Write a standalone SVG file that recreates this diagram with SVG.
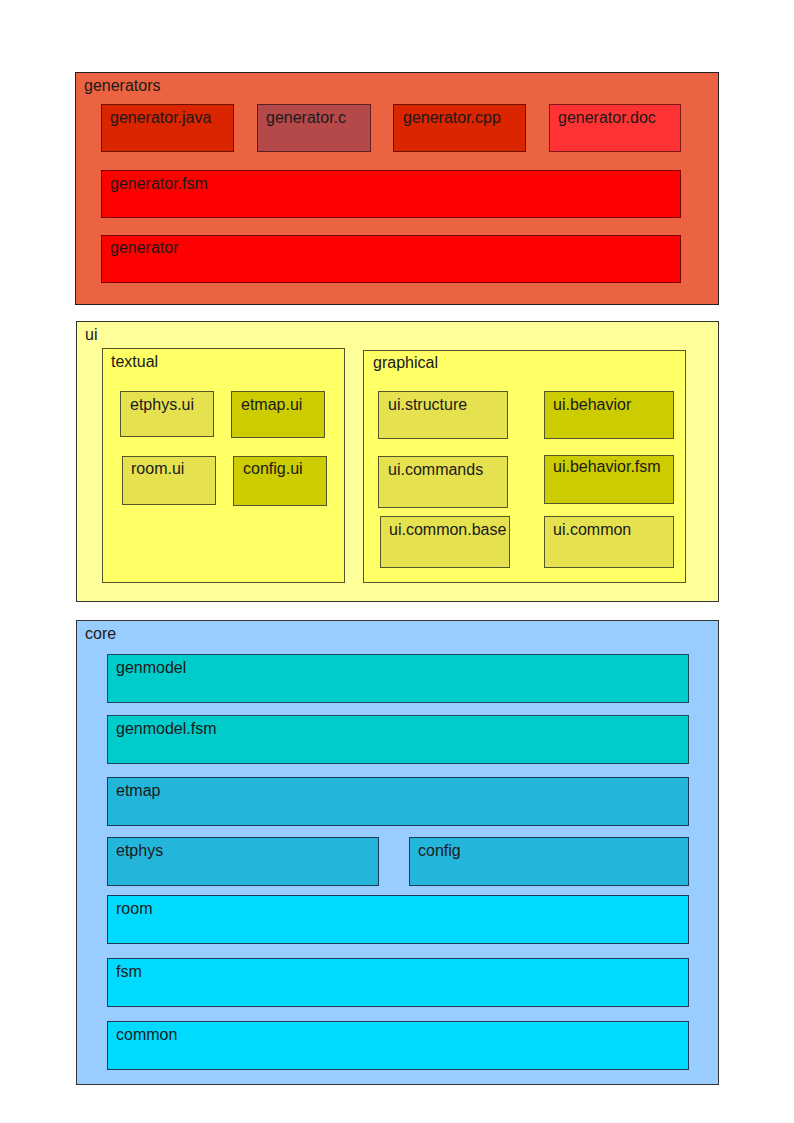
<svg xmlns="http://www.w3.org/2000/svg" width="794" height="1123" viewBox="0 0 794 1123">
<style>
text{font-family:"Liberation Sans",Arial,sans-serif;font-size:16px;fill:#1a1a1a}
rect{stroke-width:1}
.gp{fill:#EB6340;stroke:#222}
.r1{fill:#DB2400;stroke:#6b1200}
.r2{fill:#B5494A;stroke:#5a2020}
.r3{fill:#FF3333;stroke:#7a1a1a}
.r4{fill:#FF0000;stroke:#7a0000}
.up{fill:#FFFF99;stroke:#333}
.ug{fill:#FFFF66;stroke:#55552a}
.ul{fill:#E6E24F;stroke:#55552a}
.ud{fill:#CCCC00;stroke:#55552a}
.cp{fill:#99CCFF;stroke:#333}
.c1{fill:#00CCCC;stroke:#1d4a55}
.c2{fill:#24B5DA;stroke:#1d3a55}
.c3{fill:#00DAFF;stroke:#1d3a55}
</style>
<g id="generators"><rect class="gp" x="75.5" y="72.5" width="643" height="232"/><text x="84" y="91">generators</text></g>
<g id="generator.java"><rect class="r1" x="101.5" y="104.5" width="132" height="47"/><text x="110" y="123">generator.java</text></g>
<g id="generator.c"><rect class="r2" x="257.5" y="104.5" width="113" height="47"/><text x="266" y="123">generator.c</text></g>
<g id="generator.cpp"><rect class="r1" x="393.5" y="104.5" width="132" height="47"/><text x="403" y="123">generator.cpp</text></g>
<g id="generator.doc"><rect class="r3" x="549.5" y="104.5" width="131" height="47"/><text x="558" y="123">generator.doc</text></g>
<g id="generator.fsm"><rect class="r4" x="101.5" y="170.5" width="579" height="47"/><text x="110" y="189">generator.fsm</text></g>
<g id="generator"><rect class="r4" x="101.5" y="235.5" width="579" height="47"/><text x="110" y="253">generator</text></g>

<g id="ui"><rect class="up" x="76.5" y="321.5" width="642" height="280"/><text x="85" y="340">ui</text></g>
<g id="textual"><rect class="ug" x="102.5" y="348.5" width="242" height="234"/><text x="111" y="367">textual</text></g>
<g id="etphys.ui"><rect class="ul" x="120.5" y="391.5" width="93" height="45"/><text x="130" y="410">etphys.ui</text></g>
<g id="etmap.ui"><rect class="ud" x="231.5" y="391.5" width="93" height="46"/><text x="241" y="410">etmap.ui</text></g>
<g id="room.ui"><rect class="ul" x="122.5" y="456.5" width="93" height="48"/><text x="131" y="474">room.ui</text></g>
<g id="config.ui"><rect class="ud" x="233.5" y="456.5" width="93" height="49"/><text x="243" y="474">config.ui</text></g>
<g id="graphical"><rect class="ug" x="363.5" y="350.5" width="322" height="232"/><text x="373" y="368">graphical</text></g>
<g id="ui.structure"><rect class="ul" x="378.5" y="391.5" width="129" height="47"/><text x="388" y="410">ui.structure</text></g>
<g id="ui.behavior"><rect class="ud" x="544.5" y="391.5" width="129" height="47"/><text x="553" y="410">ui.behavior</text></g>
<g id="ui.commands"><rect class="ul" x="378.5" y="456.5" width="129" height="51"/><text x="388" y="475">ui.commands</text></g>
<g id="ui.behavior.fsm"><rect class="ud" x="544.5" y="455.5" width="129" height="48"/><text x="553" y="472">ui.behavior.fsm</text></g>
<g id="ui.common.base"><rect class="ul" x="380.5" y="516.5" width="129" height="51"/><text x="389" y="535">ui.common.base</text></g>
<g id="ui.common"><rect class="ul" x="544.5" y="516.5" width="129" height="51"/><text x="553" y="535">ui.common</text></g>

<g id="core"><rect class="cp" x="76.5" y="620.5" width="642" height="464"/><text x="85" y="639">core</text></g>
<g id="genmodel"><rect class="c1" x="107.5" y="654.5" width="581" height="48"/><text x="116" y="673">genmodel</text></g>
<g id="genmodel.fsm"><rect class="c1" x="107.5" y="715.5" width="581" height="48"/><text x="116" y="734">genmodel.fsm</text></g>
<g id="etmap"><rect class="c2" x="107.5" y="777.5" width="581" height="48"/><text x="116" y="796">etmap</text></g>
<g id="etphys"><rect class="c2" x="107.5" y="837.5" width="271" height="48"/><text x="116" y="856">etphys</text></g>
<g id="config"><rect class="c2" x="409.5" y="837.5" width="279" height="48"/><text x="418" y="856">config</text></g>
<g id="room"><rect class="c3" x="107.5" y="895.5" width="581" height="48"/><text x="116" y="914">room</text></g>
<g id="fsm"><rect class="c3" x="107.5" y="958.5" width="581" height="48"/><text x="116" y="977">fsm</text></g>
<g id="common"><rect class="c3" x="107.5" y="1021.5" width="581" height="48"/><text x="116" y="1040">common</text></g>
<g id="connectors"></g>
</svg>
